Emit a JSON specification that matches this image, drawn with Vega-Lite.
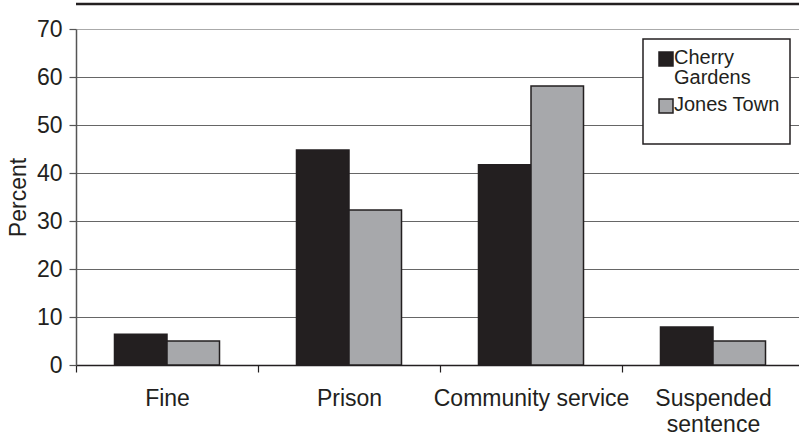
{
  "$schema": "https://vega.github.io/schema/vega-lite/v6.json",
  "width": 723,
  "height": 336,
  "autosize": "none",
  "padding": {"left": 76, "top": 29, "right": 0, "bottom": 78},
  "background": "white",
  "config": {
    "font": "Liberation Sans",
    "view": {"stroke": null},
    "axis": {"labelColor": "#231f20", "titleColor": "#231f20"}
  },
  "data": {
    "values": [
      {"sentence": "Fine", "area": "Cherry Gardens", "percent": 6.4},
      {"sentence": "Fine", "area": "Jones Town", "percent": 5.0},
      {"sentence": "Prison", "area": "Cherry Gardens", "percent": 44.8},
      {"sentence": "Prison", "area": "Jones Town", "percent": 32.3},
      {"sentence": "Community service", "area": "Cherry Gardens", "percent": 41.7},
      {"sentence": "Community service", "area": "Jones Town", "percent": 58.1},
      {"sentence": "Suspended sentence", "area": "Cherry Gardens", "percent": 7.9},
      {"sentence": "Suspended sentence", "area": "Jones Town", "percent": 5.0}
    ]
  },
  "layer": [
    {
      "mark": {"type": "bar", "stroke": "#231f20", "strokeWidth": 1.5},
      "encoding": {
        "x": {
          "field": "sentence",
          "type": "nominal",
          "sort": ["Fine", "Prison", "Community service", "Suspended sentence"],
          "scale": {"range": [0, 728], "paddingInner": 0, "paddingOuter": 0},
          "axis": {
            "title": null,
            "labelAngle": 0,
            "labelFontSize": 23,
            "labelPadding": 15,
            "labelLimit": 400,
            "labelLineHeight": 26,
            "labelExpr": "datum.label == 'Suspended sentence' ? ['Suspended', 'sentence'] : datum.label",
            "tickBand": "extent",
            "tickSize": 7,
            "tickColor": "#231f20",
            "tickWidth": 1.2,
            "domainColor": "#231f20",
            "domainWidth": 1.5,
            "grid": false
          }
        },
        "xOffset": {
          "field": "area",
          "type": "nominal",
          "sort": ["Cherry Gardens", "Jones Town"],
          "scale": {"paddingInner": 0, "paddingOuter": 0.733}
        },
        "y": {
          "field": "percent",
          "type": "quantitative",
          "scale": {"domain": [0, 70], "nice": false},
          "axis": {
            "title": "Percent",
            "titleFontSize": 23,
            "titleFontWeight": "normal",
            "titlePadding": 6,
            "values": [0, 10, 20, 30, 40, 50, 60, 70],
            "labelFontSize": 23,
            "labelPadding": 7,
            "tickSize": 7,
            "tickColor": "#555555",
            "tickWidth": 1.2,
            "domainColor": "#555555",
            "domainWidth": 1.5,
            "grid": true,
            "gridColor": {"condition": {"test": "datum.value === 70", "value": "#aaaaaa"}, "value": "#666666"},
            "gridWidth": 1.2
          }
        },
        "color": {
          "field": "area",
          "type": "nominal",
          "scale": {"domain": ["Cherry Gardens", "Jones Town"], "range": ["#231f20", "#a7a8ab"]},
          "legend": {
            "title": " ",
            "titleOrient": "bottom",
            "titleFontSize": 16,
            "titlePadding": 2,
            "orient": "none",
            "legendX": 567,
            "legendY": 10,
            "direction": "vertical",
            "fillColor": "white",
            "strokeColor": "#231f20",
            "padding": 10,
            "rowPadding": 7,
            "symbolType": "square",
            "symbolSize": 196,
            "symbolStrokeColor": "#231f20",
            "symbolStrokeWidth": 1.5,
            "symbolOffset": 3,
            "labelFontSize": 20,
            "labelColor": "#231f20",
            "labelOffset": -2,
            "labelLimit": 300,
            "labelBaseline": "top",
            "labelExpr": "datum.label == 'Cherry Gardens' ? ['Cherry', 'Gardens'] : datum.label",
            "encode": {
              "labels": {"update": {"dy": {"value": -11}, "lineHeight": {"value": 20}}},
              "legend": {"update": {"strokeWidth": {"value": 1.5}}}
            }
          }
        }
      }
    },
    {
      "data": {"values": [{}]},
      "mark": {"type": "rule", "color": "#231f20", "strokeWidth": 2.5},
      "encoding": {"y": {"datum": 75.2}}
    }
  ]
}
